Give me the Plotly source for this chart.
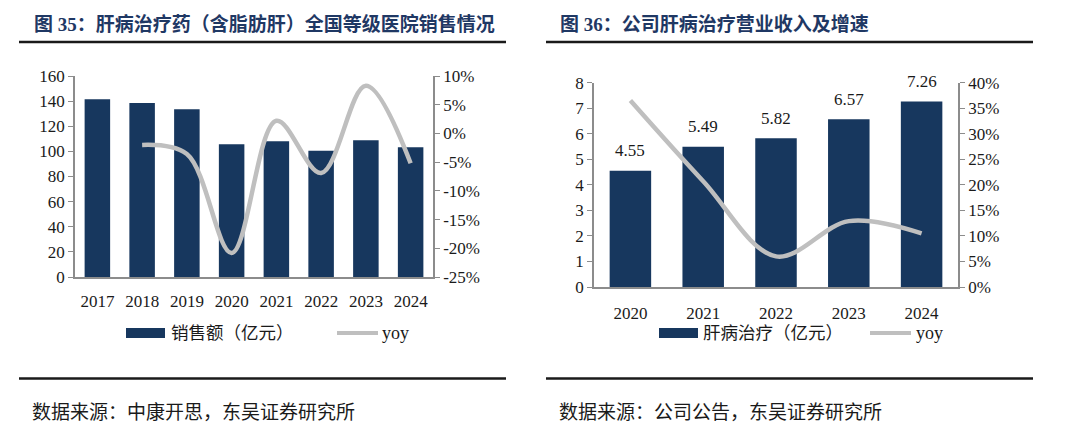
import plotly.graph_objects as go

# page canvas is 1080x438; the html body adds an 8px margin, so the figure is drawn
# 8px in from the top-left corner and sized to stay inside the window.
W, H = 1080, 438
OFF = 8
FW, FH = W - 2 * OFF, H - 2 * OFF

# ---------------- data ----------------
years_a = ["2017", "2018", "2019", "2020", "2021", "2022", "2023", "2024"]
sales_a = [141.4, 138.5, 133.5, 105.6, 108.0, 100.5, 108.8, 103.2]
yoy_a = [None, -2.0, -3.6, -20.8, 2.2, -6.9, 8.3, -5.2]
yoy_a_ticks = [10, 5, 0, -5, -10, -15, -20, -25]

years_b = ["2020", "2021", "2022", "2023", "2024"]
rev_b = [4.55, 5.49, 5.82, 6.57, 7.26]
yoy_b = [36.5, 20.7, 6.0, 12.9, 10.5]

title_a = "图 35：肝病治疗药（含脂肪肝）全国等级医院销售情况"
title_b = "图 36：公司肝病治疗营业收入及增速"
legend_bar_a = "销售额（亿元）"
legend_bar_b = "肝病治疗（亿元）"
legend_line = "yoy"
source_a = "数据来源：中康开思，东吴证券研究所"
source_b = "数据来源：公司公告，东吴证券研究所"

# ---------------- style ----------------
BAR = "#17375E"
LINE = "#BFBFBF"
AXIS = "#8C8C8C"
TITLE_C = "#1F3864"
TXT = "#1a1a1a"
SERIF = "Liberation Serif, Noto Sans CJK SC"
CJK = "Liberation Serif, Noto Sans CJK SC"


def px(x):
    return (x - OFF) / FW


def py(y):
    return 1 - (y - OFF) / FH


fig = go.Figure()

fig.add_trace(go.Bar(x=years_a, y=sales_a, xaxis="x", yaxis="y",
                     marker=dict(color=BAR, line=dict(width=0)),
                     showlegend=False, name=legend_bar_a))
fig.add_trace(go.Scatter(x=years_a, y=yoy_a, xaxis="x", yaxis="y2", mode="lines",
                         line=dict(color=LINE, width=4.5, shape="spline", smoothing=1),
                         showlegend=False, name=legend_line))
fig.add_trace(go.Bar(x=years_b, y=rev_b, xaxis="x2", yaxis="y3",
                     marker=dict(color=BAR, line=dict(width=0)),
                     showlegend=False, name=legend_bar_b))
fig.add_trace(go.Scatter(x=years_b, y=yoy_b, xaxis="x2", yaxis="y4", mode="lines",
                         line=dict(color=LINE, width=4.5, shape="spline", smoothing=1),
                         showlegend=False, name=legend_line))

tickfont = dict(family=SERIF, size=17, color=TXT)

ax_common = dict(showgrid=False, zeroline=False, showline=True, linecolor=AXIS,
                 linewidth=1.5, tickfont=tickfont, automargin=False)

fig.update_layout(
    template="none",
    width=FW, height=FH, autosize=False,
    margin=dict(l=0, r=0, t=0, b=0, pad=0),
    paper_bgcolor="white", plot_bgcolor="rgba(0,0,0,0)",
    bargap=0.43,
    showlegend=False,
    xaxis=dict(type="category", range=[-0.5, len(years_a) - 0.5],
               domain=[px(75), px(433)], anchor="y", ticks="outside",
               ticklen=8, tickcolor="rgba(0,0,0,0)", **ax_common),
    yaxis=dict(domain=[py(277), py(76)], anchor="x", range=[0, 160], dtick=20,
               ticks="outside", ticklen=5, tickcolor=AXIS, **ax_common),
    yaxis2=dict(overlaying="y", anchor="x", side="right", range=[-25, 10],
                tickvals=yoy_a_ticks, ticktext=[f"{v}%" for v in yoy_a_ticks],
                ticks="outside", ticklen=5, tickcolor=AXIS, **ax_common),
    xaxis2=dict(type="category", range=[-0.5, len(years_b) - 0.5],
                domain=[px(594), px(958)], anchor="y3", ticks="outside",
                ticklen=10, tickcolor="rgba(0,0,0,0)", **ax_common),
    yaxis3=dict(domain=[py(287), py(82.7)], anchor="x2", range=[0, 8], dtick=1,
                ticks="outside", ticklen=5, tickcolor=AXIS, **ax_common),
    yaxis4=dict(overlaying="y3", anchor="x2", side="right", range=[0, 40], dtick=5,
                ticksuffix="%", ticks="outside", ticklen=5, tickcolor=AXIS, **ax_common),
)

annotations = []
# data labels on right chart (category index positions)
for i, v in enumerate(rev_b):
    annotations.append(dict(x=i, y=v, xref="x2", yref="y3", text=f"{v:.2f}",
                            showarrow=False, yshift=20,
                            font=dict(family=SERIF, size=17, color=TXT)))

# titles
annotations.append(dict(x=px(32), y=py(23.5), xref="paper", yref="paper", xanchor="left",
                        yanchor="middle", showarrow=False, text=f"<b>{title_a}</b>",
                        font=dict(family=CJK, size=19, color=TITLE_C)))
annotations.append(dict(x=px(558), y=py(23.5), xref="paper", yref="paper", xanchor="left",
                        yanchor="middle", showarrow=False, text=f"<b>{title_b}</b>",
                        font=dict(family=CJK, size=19, color=TITLE_C)))
# sources
annotations.append(dict(x=px(30), y=py(412), xref="paper", yref="paper", xanchor="left",
                        yanchor="middle", showarrow=False, text=source_a,
                        font=dict(family=CJK, size=19, color=TXT)))
annotations.append(dict(x=px(557), y=py(412), xref="paper", yref="paper", xanchor="left",
                        yanchor="middle", showarrow=False, text=source_b,
                        font=dict(family=CJK, size=19, color=TXT)))
# legend labels
leg_font = dict(family=CJK, size=17.5, color=TXT)
annotations.append(dict(x=px(169), y=py(333), xref="paper", yref="paper", xanchor="left",
                        yanchor="middle", showarrow=False, text=legend_bar_a, font=leg_font))
annotations.append(dict(x=px(380), y=py(333), xref="paper", yref="paper", xanchor="left",
                        yanchor="middle", showarrow=False, text=legend_line,
                        font=dict(family=SERIF, size=18, color=TXT)))
annotations.append(dict(x=px(701), y=py(333), xref="paper", yref="paper", xanchor="left",
                        yanchor="middle", showarrow=False, text=legend_bar_b, font=leg_font))
annotations.append(dict(x=px(914), y=py(333), xref="paper", yref="paper", xanchor="left",
                        yanchor="middle", showarrow=False, text=legend_line,
                        font=dict(family=SERIF, size=18, color=TXT)))

shapes = []
# title underlines and bottom rules
for x0, x1 in [(19, 506), (546, 1033)]:
    shapes.append(dict(type="line", xref="paper", yref="paper", x0=px(x0), x1=px(x1),
                       y0=py(42), y1=py(42), line=dict(color="#1a1a1a", width=2.5)))
    shapes.append(dict(type="line", xref="paper", yref="paper", x0=px(x0), x1=px(x1),
                       y0=py(378.5), y1=py(378.5), line=dict(color="#1a1a1a", width=2.5)))
# legend symbols
for rx in (126, 659):
    shapes.append(dict(type="rect", xref="paper", yref="paper", x0=px(rx), x1=px(rx + 39),
                       y0=py(338), y1=py(328), fillcolor=BAR, line=dict(width=0)))
for lx in (337, 870):
    shapes.append(dict(type="line", xref="paper", yref="paper", x0=px(lx), x1=px(lx + 41),
                       y0=py(333), y1=py(333), line=dict(color=LINE, width=4)))

fig.update_layout(annotations=annotations, shapes=shapes)

fig.write_html("out.html")
